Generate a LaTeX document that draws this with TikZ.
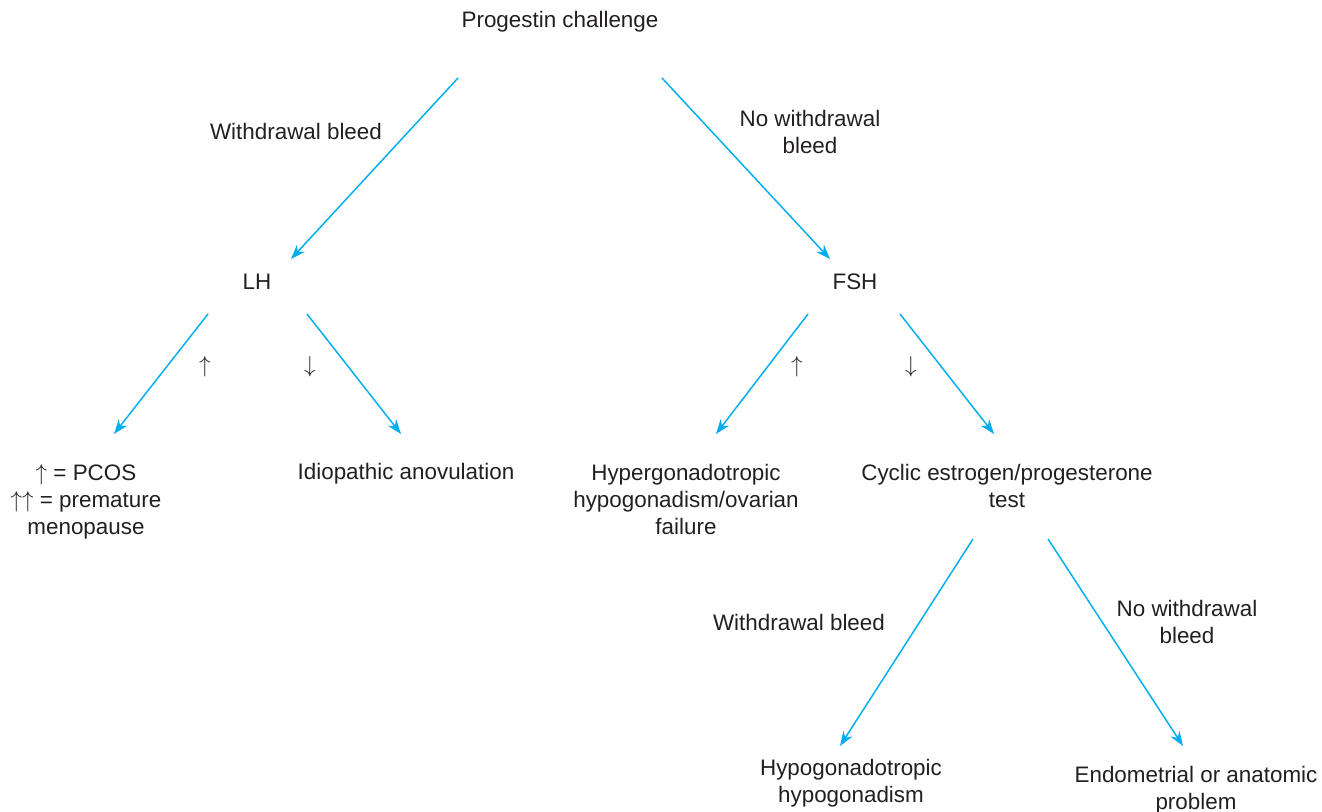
\documentclass[tikz,border=0pt]{standalone}
\usepackage{fontspec}
\setmainfont{Liberation Sans}
\usetikzlibrary{arrows.meta,calc}
\definecolor{txtgray}{RGB}{35,31,32}
\definecolor{flowblue}{RGB}{0,174,239}

\begin{document}
\begin{tikzpicture}[x=0.75pt, y=-0.75pt,
  font=\fontsize{16.8}{20.25}\selectfont, text=txtgray,
  lbl/.style={anchor=base, align=center, inner sep=0pt},
  arr/.style={-{Stealth[length=11pt, width=8pt]}, flowblue, line width=1.1pt}]
  \useasboundingbox (0,0) rectangle (1322,812);
  % Entscheidungsbaum: Gestagentest (Basis = letzte Zeile)
  \node[lbl] (pc) at (560,28) {Progestin challenge};
  \node[lbl] (wb1) at (296,140) {Withdrawal bleed};
  \node[lbl] (nwb1) at (810,154) {No withdrawal\\bleed};
  \node[lbl] (lh) at (257,290) {LH};
  \node[lbl] (fsh) at (855,290) {FSH};
  \node (up1) at (205,367) {$\uparrow$};
  \node (dn1) at (310,367) {$\downarrow$};
  \node (up2) at (797,367) {$\uparrow$};
  \node (dn2) at (911,367) {$\downarrow$};
  \node[lbl] (pcos) at (86,535) {$\uparrow$ = PCOS\\$\uparrow\uparrow$ = premature\\menopause};
  \node[lbl] (idio) at (406,480) {Idiopathic anovulation};
  \node[lbl] (hyper) at (686,535) {Hypergonadotropic\\hypogonadism/ovarian\\failure};
  \node[lbl] (cyc) at (1007,508) {Cyclic estrogen/progesterone\\test};
  \node[lbl] (wb2) at (799,631) {Withdrawal bleed};
  \node[lbl] (nwb2) at (1187,644) {No withdrawal\\bleed};
  \node[lbl] (hypo) at (851,802) {Hypogonadotropic\\hypogonadism};
  \node[lbl] (endo) at (1196,809) {Endometrial or anatomic\\problem};

  \draw[arr] ($(pc.base)+(-102,50)$) -- ($(lh.base)+(34,-31)$);
  \draw[arr] ($(pc.base)+(102,50)$) -- ($(fsh.base)+(-25,-31)$);
  \draw[arr] ($(lh.base)+(-49,24)$) -- ($(pcos.base)+(28,-101)$);
  \draw[arr] ($(lh.base)+(50,24)$) -- ($(idio.base)+(-5,-46)$);
  \draw[arr] ($(fsh.base)+(-47,24)$) -- ($(hyper.base)+(30,-101)$);
  \draw[arr] ($(fsh.base)+(45,24)$) -- ($(cyc.base)+(-13,-74)$);
  \draw[arr] ($(cyc.base)+(-34,31)$) -- ($(hypo.base)+(-11,-56)$);
  \draw[arr] ($(cyc.base)+(41,31)$) -- ($(endo.base)+(-13,-63)$);
\end{tikzpicture}
\end{document}
